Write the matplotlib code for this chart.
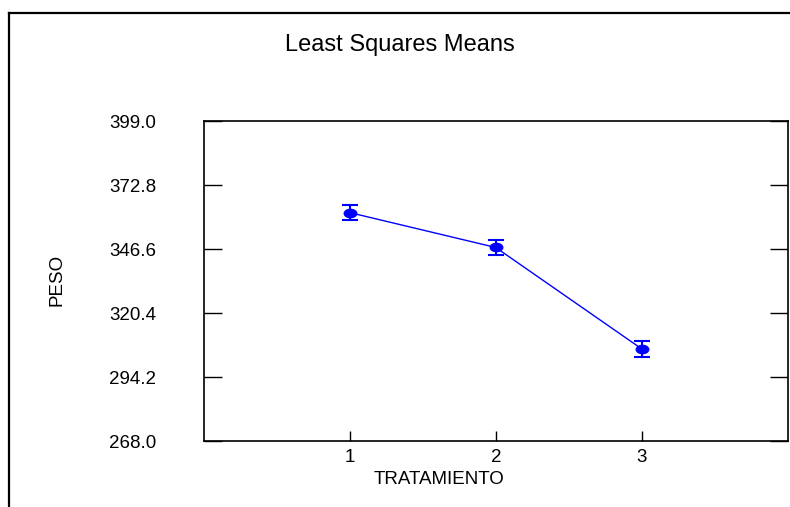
import matplotlib
matplotlib.use("Agg")
import matplotlib.pyplot as plt
from matplotlib.lines import Line2D
from matplotlib.path import Path
from matplotlib.transforms import Affine2D

plt.rcParams['font.family'] = ['Liberation Sans', 'DejaVu Sans']

# data
tratamiento = [1, 2, 3]
peso_mean = [361.6, 347.3, 305.7]
peso_err = [3.1, 3.0, 3.1]
y_ticks = [268.0, 294.2, 320.4, 346.6, 372.8, 399.0]

W, H = 790, 507
fig = plt.figure(figsize=(W / 100, H / 100), dpi=100)

# axes box in pixels
left, right, top, bottom = 203.5, 788, 121.3, 441
ax = fig.add_axes([left / W, 1 - bottom / H, (right - left) / W, (bottom - top) / H])

# flattened dot like the original
ellipse = Path.unit_circle().transformed(Affine2D().scale(1.5, 1.0))

ax.errorbar(tratamiento, peso_mean, yerr=peso_err, color='blue', lw=1,
            marker=ellipse, ms=9, capsize=5.8, capthick=1.5, elinewidth=1.5)

ax.set_xlim(0, 4)
ax.set_ylim(268.0, 399.0)
ax.set_xticks(tratamiento)
ax.set_yticks(y_ticks)
ax.set_yticklabels([f"{v:.1f}" for v in y_ticks])

ax.tick_params(axis='y', direction='in', length=13, width=1, right=True,
               labelsize=13.5, pad=34)
ax.tick_params(axis='x', direction='in', length=7, width=1, top=False,
               labelsize=13.5, pad=6)
for s in ax.spines.values():
    s.set_linewidth(1.2)

fig.text(400 / W, 1 - 45 / H, "Least Squares Means", ha='center', va='center', fontsize=17)
fig.text(439.5 / W, 1 - 480 / H, "TRATAMIENTO", ha='center', va='center', fontsize=13.5)
fig.text(57 / W, 1 - 280 / H, "PESO", ha='center', va='center', rotation=90, fontsize=13.5)

# outer frame (only left and top edges visible)
fig.add_artist(Line2D([9 / W, 9 / W], [0, 1 - 12.5 / H], color='black', lw=1.6,
                      transform=fig.transFigure))
fig.add_artist(Line2D([9 / W, 1], [1 - 12.5 / H, 1 - 12.5 / H], color='black', lw=1.6,
                      transform=fig.transFigure))

fig.savefig("out.png", dpi=100)
